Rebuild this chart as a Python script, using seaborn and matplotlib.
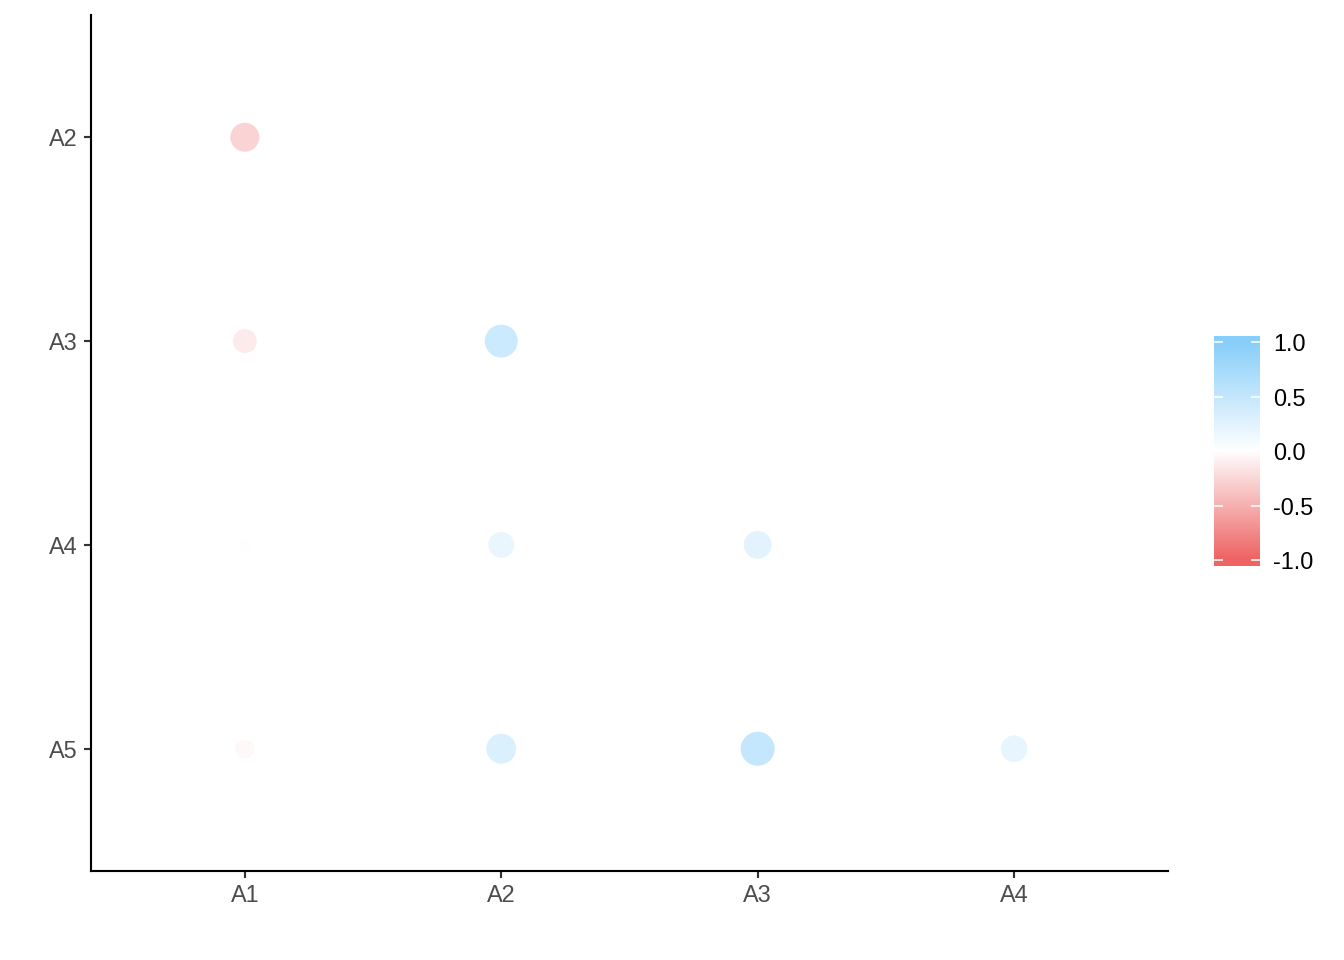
import numpy as np
import pandas as pd
import seaborn as sns
import matplotlib.pyplot as plt
from matplotlib.colors import LinearSegmentedColormap, Normalize

# lower triangle of a correlation matrix
row_var = ["A2", "A3", "A3", "A4", "A4", "A4", "A5", "A5", "A5", "A5"]
col_var = ["A1", "A1", "A2", "A1", "A2", "A3", "A1", "A2", "A3", "A4"]
corr = [-0.28, -0.13, 0.43, -0.01, 0.18, 0.24, -0.04, 0.31, 0.48, 0.20]
x_labels = ["A1", "A2", "A3", "A4"]
y_labels = ["A2", "A3", "A4", "A5"]
cbar_ticks = [-1.0, -0.5, 0.0, 0.5, 1.0]

sns.set_theme(style="white")
plt.rcParams["font.family"] = ["Liberation Sans", "DejaVu Sans"]

df = pd.DataFrame({"row": row_var, "col": col_var, "corr": corr})
df["x"] = pd.Categorical(df["col"], categories=x_labels).codes
df["y"] = pd.Categorical(df["row"], categories=y_labels).codes
df["abs"] = df["corr"].abs()

# ggcorrplot-like size scale: area scaled by sqrt of rescaled |r|, range 4..10
amin, amax = df["abs"].min(), df["abs"].max()
pt_per_unit = 1.275
size_map = {a: (pt_per_unit * (4 + 6 * np.sqrt((a - amin) / (amax - amin)))) ** 2
            for a in df["abs"].unique()}

cmap = LinearSegmentedColormap.from_list("rwb", ["#EE6363", "#FFFFFF", "#87CEFA"])
norm = Normalize(-1, 1)

fig = plt.figure(figsize=(7, 5), dpi=192)
ax = fig.add_axes([0.0677, 0.0927, 0.8013, 0.8917])

sns.scatterplot(data=df, x="x", y="y", hue="corr", palette=cmap, hue_norm=norm,
                size="abs", sizes=size_map, linewidth=0, legend=False, ax=ax)

ax.set_xlim(-0.6, 3.6)
ax.set_ylim(3.6, -0.6)
ax.set_xticks(range(len(x_labels)), x_labels)
ax.set_yticks(range(len(y_labels)), y_labels)
ax.set_xlabel("")
ax.set_ylabel("")
for s in ["top", "right"]:
    ax.spines[s].set_visible(False)
for s in ["left", "bottom"]:
    ax.spines[s].set_color("black")
    ax.spines[s].set_linewidth(0.8)
ax.tick_params(axis="both", which="major", direction="out", length=2.75, width=0.8,
               color="#333333", labelcolor="#4D4D4D", labelsize=8.8, pad=2.2,
               bottom=True, left=True)

# colourbar
cax = fig.add_axes([0.9033, 0.4104, 0.0342, 0.2396])
lim = 1.055
grad = np.linspace(-lim, lim, 300).reshape(-1, 1)
cax.imshow(grad, aspect="auto", cmap=cmap, norm=norm, origin="lower",
           extent=[0, 1, -lim, lim])
cax.set_xlim(0, 1)
cax.set_ylim(-lim, lim)
cax.set_xticks([])
cax.set_yticks(cbar_ticks, [f"{t:.1f}" for t in cbar_ticks])
cax.yaxis.tick_right()
cax.tick_params(axis="y", direction="in", length=3.5, width=0.6, color="white",
                left=True, right=True, labelcolor="black", labelsize=8.8, pad=5)
for s in cax.spines.values():
    s.set_visible(False)

fig.savefig("out.png", dpi=192)
